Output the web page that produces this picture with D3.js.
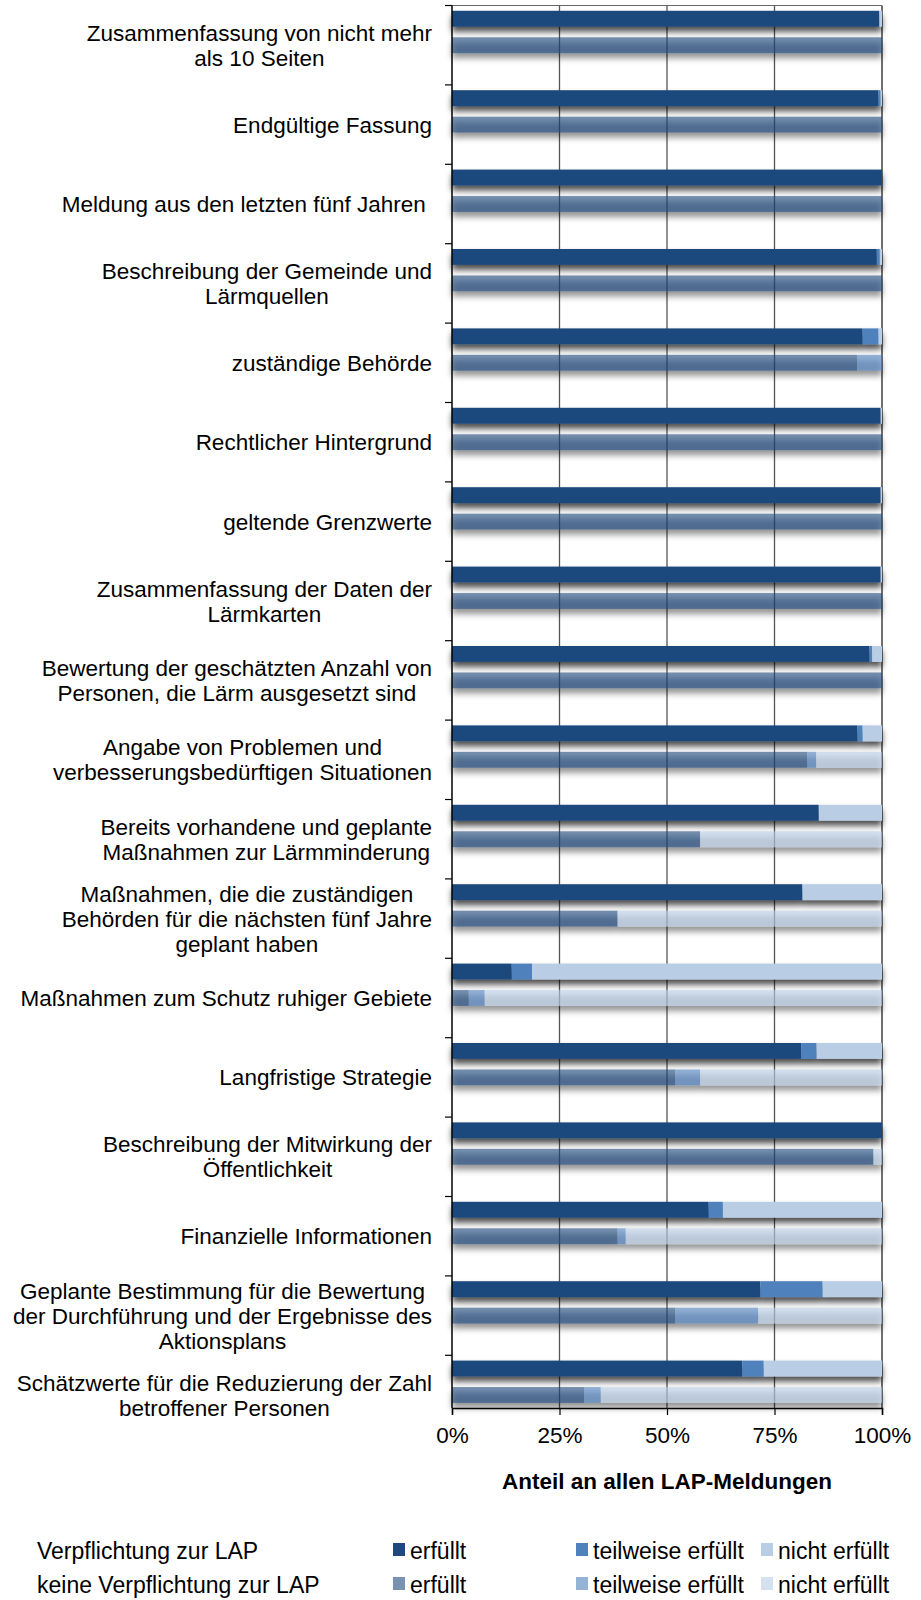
<!DOCTYPE html>
<html lang="de">
<head>
<meta charset="utf-8">
<title>LAP-Meldungen</title>
<style>
  body { margin: 0; padding: 0; background: #fff; }
  svg { display: block; font-family: "Liberation Sans", Arial, sans-serif; }
  .cat { font-size: 22.5px; fill: #000; }
  .tick text { font-size: 22.5px; fill: #000; }
  .legend text { font-size: 23px; fill: #000; }
</style>
</head>
<body>
<svg id="chart" width="921" height="1600"></svg>
<script src="https://cdnjs.cloudflare.com/ajax/libs/d3/7.8.5/d3.min.js"></script>
<script>
// categories (line breaks as in the original)
var categories = [
  "Zusammenfassung von nicht mehr\nals 10 Seiten",
  "Endgültige Fassung",
  "Meldung aus den letzten fünf Jahren\u00a0",
  "Beschreibung der Gemeinde und\nLärmquellen",
  "zuständige Behörde",
  "Rechtlicher Hintergrund",
  "geltende Grenzwerte",
  "Zusammenfassung der Daten der\nLärmkarten",
  "Bewertung der geschätzten Anzahl von\nPersonen, die Lärm ausgesetzt sind",
  "Angabe von Problemen und\nverbesserungsbedürftigen Situationen",
  "Bereits vorhandene und geplante\nMaßnahmen zur Lärmminderung",
  "Maßnahmen, die die zuständigen\nBehörden für die nächsten fünf Jahre\ngeplant haben",
  "Maßnahmen zum Schutz ruhiger Gebiete",
  "Langfristige Strategie",
  "Beschreibung der Mitwirkung der\nÖffentlichkeit",
  "Finanzielle Informationen",
  "Geplante Bestimmung für die Bewertung\nder Durchführung und der Ergebnisse des\nAktionsplans",
  "Schätzwerte für die Reduzierung der Zahl\nbetroffener Personen"
];

// Verpflichtung zur LAP (%)
var vErfuellt   = [99.4, 99.2, 100, 98.8, 95.5, 99.7, 99.7, 99.7, 97.1, 94.3, 85.3, 81.5, 13.9, 81.2, 100, 59.7, 71.7, 67.5];
var vTeilweise  = [0, 0.5, 0, 0.7, 3.7, 0, 0, 0, 0.6, 1.2, 0, 0, 4.7, 3.6, 0, 3.3, 14.5, 5.0];
var vNicht      = [0.6, 0.3, 0, 0.5, 0.8, 0.3, 0.3, 0.3, 2.3, 4.5, 14.7, 18.5, 81.4, 15.2, 0, 37.0, 13.8, 27.5];

// keine Verpflichtung zur LAP (%)
var kErfuellt   = [100, 100, 100, 100, 94.2, 100, 100, 100, 100, 82.6, 57.7, 38.5, 3.9, 51.9, 98.0, 38.5, 51.9, 30.7];
var kTeilweise  = [0, 0, 0, 0, 5.8, 0, 0, 0, 0, 2.1, 0, 0, 3.7, 5.8, 0, 1.9, 19.3, 3.9];
var kNicht      = [0, 0, 0, 0, 0, 0, 0, 0, 0, 15.3, 42.3, 61.5, 92.4, 42.3, 2.0, 59.6, 28.8, 65.4];

var groups   = ["Verpflichtung zur LAP", "keine Verpflichtung zur LAP"];
var statuses = ["erfüllt", "teilweise erfüllt", "nicht erfüllt"];
var xTicks   = [0, 25, 50, 75, 100];
var xTitle   = "Anteil an allen LAP-Meldungen";

var colors = ["#1F497D", "#4F81BD", "#B9CDE5"];

var svg = d3.select("#chart");

// plot box (note: "top" is taken by window.top)
var pL = 452, pR = 882, pT = 5.5, pB = 1408, step = 79.4;

var x = d3.scaleLinear().domain([0, 100]).range([pL, pR]);
var y = d3.scaleBand().domain(categories).range([pT, pT + step * categories.length]);
// third slot is the empty one Excel leaves in each cluster
var sub = d3.scaleBand().domain([groups[0], groups[1], "_"]).range([0, y.bandwidth()])
  .paddingInner(0.4).paddingOuter(0.2);

// shadow
var defs = svg.append("defs");
var f = defs.append("filter").attr("id", "shadow")
  .attr("x", "-5%").attr("y", "-60%").attr("width", "110%").attr("height", "280%");
f.append("feDropShadow").attr("dx", 0).attr("dy", 5).attr("stdDeviation", 3)
  .attr("flood-color", "#000").attr("flood-opacity", 0.7);

// grid
svg.append("g").selectAll("line").data(xTicks.slice(1)).join("line")
  .attr("x1", d => x(d)).attr("x2", d => x(d))
  .attr("y1", pT).attr("y2", pB)
  .attr("stroke", d => d === 100 ? "#222" : "#555").attr("stroke-width", 1.3);
svg.append("line").attr("x1", pL).attr("x2", pR).attr("y1", pT).attr("y2", pT)
  .attr("stroke", "#666").attr("stroke-width", 1);

// table for d3.stack
var tables = [
  categories.map((c, i) => ({cat: c, 0: vErfuellt[i], 1: vTeilweise[i], 2: vNicht[i]})),
  categories.map((c, i) => ({cat: c, 0: kErfuellt[i], 1: kTeilweise[i], 2: kNicht[i]}))
];
var stack = d3.stack().keys([0, 1, 2]);

groups.forEach(function (g, gi) {
  var layers = stack(tables[gi]);
  var rows = categories.map((c, i) => layers.map(l => ({cat: c, k: l.key, x0: l[i][0], x1: l[i][1]})));
  svg.append("g").selectAll("g.bar").data(rows).join("g")
    .attr("class", "bar")
    .attr("filter", "url(#shadow)")
    .selectAll("rect").data(d => d.filter(s => s.x1 > s.x0)).join("rect")
    .attr("x", d => x(d.x0))
    .attr("width", d => x(d.x1) - x(d.x0))
    .attr("y", d => y(d.cat) + sub(g))
    .attr("height", sub.bandwidth())
    .attr("fill", d => colors[d.k])
    .attr("fill-opacity", gi === 0 ? 1 : 0.6);
});

// left axis
svg.append("line").attr("x1", pL).attr("x2", pL).attr("y1", pT).attr("y2", pB)
  .attr("stroke", "#000").attr("stroke-width", 1.5);
svg.append("g").selectAll("line").data(categories).join("line")
  .attr("x1", pL - 7).attr("x2", pL)
  .attr("y1", d => y(d)).attr("y2", d => y(d))
  .attr("stroke", "#000").attr("stroke-width", 1.2);

// bottom axis
var xAxis = svg.append("g").attr("transform", "translate(0," + pB + ")")
  .call(d3.axisBottom(x).tickValues(xTicks).tickFormat(d => d + "%").tickSize(7).tickPadding(12));
xAxis.select(".domain").attr("stroke", "#000").attr("stroke-width", 1.5);
xAxis.selectAll(".tick line").attr("stroke", "#000").attr("stroke-width", 1.2);
xAxis.selectAll(".tick text").attr("font-family", null).attr("font-size", null);

svg.append("text").attr("x", 667).attr("y", 1489)
  .attr("text-anchor", "middle").attr("font-weight", "bold").attr("font-size", "22.5px")
  .text(xTitle);

// category labels: lines centred, block right aligned at the axis
var labels = svg.append("g").selectAll("text").data(categories).join("text")
  .attr("class", "cat").attr("text-anchor", "middle");
labels.each(function (d) {
  var t = d3.select(this), lines = d.split("\n"), n = lines.length;
  var cy = y(d) + step / 2;
  lines.forEach(function (ln, i) {
    t.append("tspan").attr("y", cy - (n - 1) * 25 / 2 + 8 + i * 25).text(ln);
  });
  var w = d3.max(t.selectAll("tspan").nodes(), s => s.getComputedTextLength());
  t.selectAll("tspan").attr("x", 432 - w / 2);
});

// legend
var legCols = [393, 576, 761];
var legRows = [1543, 1577];
var legend = svg.append("g").attr("class", "legend");
groups.forEach(function (g, gi) {
  legend.append("text").attr("x", 37).attr("y", legRows[gi] + 16).text(g);
  statuses.forEach(function (s, si) {
    legend.append("rect").attr("x", legCols[si]).attr("y", legRows[gi])
      .attr("width", 12).attr("height", 13)
      .attr("fill", colors[si]).attr("fill-opacity", gi === 0 ? 1 : 0.6);
    legend.append("text").attr("x", legCols[si] + 17).attr("y", legRows[gi] + 16).text(s);
  });
});
</script>
</body>
</html>
